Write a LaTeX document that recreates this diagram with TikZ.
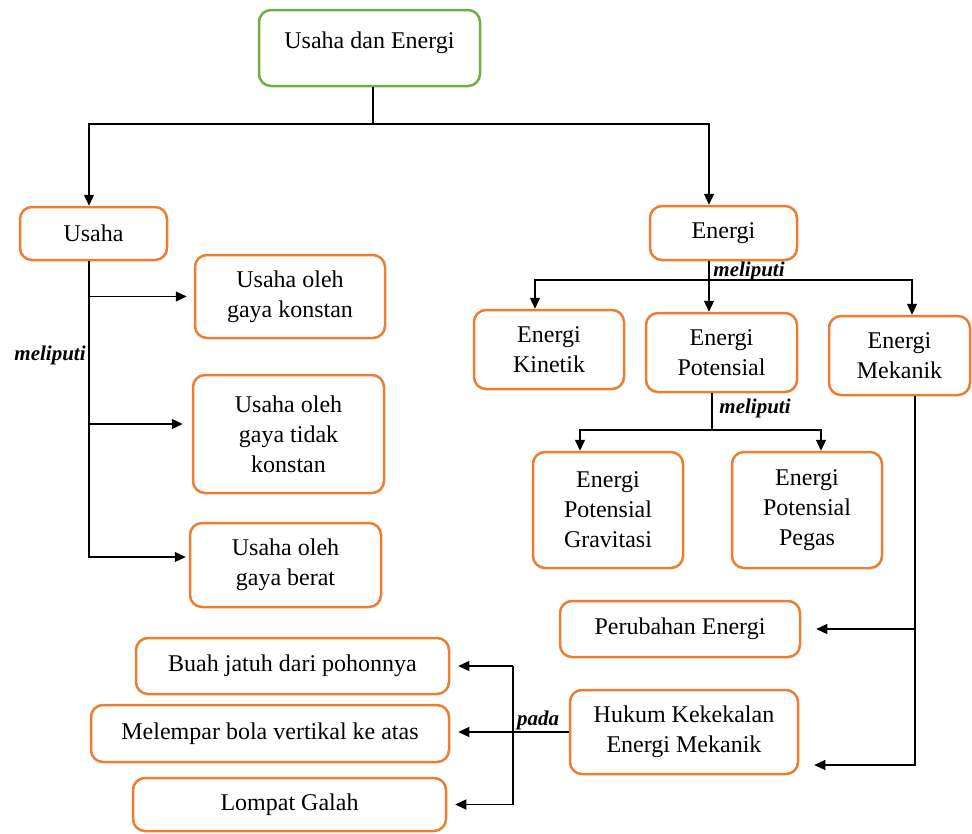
\documentclass[tikz,border=0pt]{standalone}
\usepackage{fontspec}
\setmainfont{Liberation Serif}
\usetikzlibrary{arrows.meta}

\definecolor{boxorange}{HTML}{ED7D31}
\definecolor{boxgreen}{HTML}{70AD47}

\begin{document}
\begin{tikzpicture}[x=1pt, y=-1pt, line width=1.2pt,
    >={Triangle[length=11pt,width=10pt]},
    box/.style={draw=boxorange, line width=2.5pt, rounded corners=12pt,
        align=center, font=\fontsize{24}{30}\selectfont},
    note/.style={font=\fontsize{21}{21}\selectfont\bfseries\itshape}]
    \useasboundingbox (0,0) rectangle (972,833);

    % judul
    \node[box, draw=boxgreen, minimum width=221pt, minimum height=76pt, text depth=16pt] (root) at (369.5,48) {Usaha dan Energi};

    % cabang usaha
    \node[box, minimum width=147pt, minimum height=53pt] (usaha) at (93.5,233.5) {Usaha};
    \node[box, minimum width=190pt, minimum height=83pt] (uk) at (290,296.5) {Usaha oleh\\gaya konstan};
    \node[box, minimum width=191pt, minimum height=118pt] (utk) at (288.5,434) {Usaha oleh\\gaya tidak\\konstan};
    \node[box, minimum width=191pt, minimum height=84pt] (ub) at (285.5,565) {Usaha oleh\\gaya berat};

    % cabang energi
    \node[box, minimum width=147pt, minimum height=54pt] (energi) at (723.5,233) {Energi};
    \node[box, minimum width=150pt, minimum height=79pt] (ek) at (549,349.5) {Energi\\Kinetik};
    \node[box, minimum width=151pt, minimum height=79pt] (ep) at (721.5,352.5) {Energi\\Potensial};
    \node[box, minimum width=141pt, minimum height=79pt] (em) at (899.5,355.5) {Energi\\Mekanik};
    \node[box, minimum width=150pt, minimum height=116pt] (epg) at (608,510) {Energi\\Potensial\\Gravitasi};
    \node[box, minimum width=150pt, minimum height=116pt] (epp) at (807,510) {Energi\\Potensial\\Pegas};
    \node[box, minimum width=240pt, minimum height=56pt] (pe) at (680,629) {Perubahan Energi};
    \node[box, minimum width=228pt, minimum height=84pt] (hk) at (684,732) {Hukum Kekekalan\\Energi Mekanik};

    % contoh hukum kekekalan
    \node[box, minimum width=313pt, minimum height=56pt] (buah) at (292.5,666) {Buah jatuh dari pohonnya};
    \node[box, minimum width=358pt, minimum height=57pt] (lempar) at (270,733.5) {Melempar bola vertikal ke atas};
    \node[box, minimum width=313pt, minimum height=53pt] (galah) at (289.5,804.5) {Lompat Galah};

    % judul -> usaha, energi
    \coordinate (rbot) at ([xshift=3.5pt]root.south);
    \coordinate (split) at (rbot |- 0,124);
    \draw (rbot) -- (split);
    \draw[->] (split) -| ([xshift=-4.5pt]usaha.north);
    \draw[->] (split) -| ([xshift=-14.5pt]energi.north);

    % usaha meliputi
    \coordinate (ustem) at ([xshift=-4.5pt]usaha.south);
    \coordinate (ubin) at ([yshift=8pt]ub.west);
    \coordinate (utkin) at ([yshift=10pt]utk.west);
    \draw[->, shorten >=3pt] (ustem) |- (ubin);
    \draw[->, shorten >=7pt] (ustem |- uk.west) -- (uk.west);
    \draw[->, shorten >=9pt] (ustem |- utkin) -- (utkin);
    \node[note] (m1) at (50,355) {meliputi};

    % energi meliputi
    \coordinate (etop) at ([xshift=-14.5pt]energi.south);
    \coordinate (esplit) at (etop |- 0,280);
    \draw (etop) -- (esplit);
    \draw[->] (esplit) -| ([xshift=-14pt]ek.north);
    \draw[->] (esplit) -- (esplit |- ep.north);
    \draw[->] (esplit) -| ([xshift=12.5pt]em.north);
    \node[note] (m2) at (749,271) {meliputi};

    % potensial meliputi
    \coordinate (ptop) at ([xshift=-9.5pt]ep.south);
    \coordinate (psplit) at (ptop |- 0,430);
    \draw (ptop) -- (psplit);
    \draw[->] (psplit) -| ([xshift=-28pt]epg.north);
    \draw[->] (psplit) -| ([xshift=14pt]epp.north);
    \node[note] (m3) at (755,408) {meliputi};

    % mekanik -> perubahan, hukum
    \coordinate (mtop) at ([xshift=15.5pt]em.south);
    \coordinate (hkin) at ([yshift=-33pt]hk.east);
    \draw[->, shorten >=15pt] (mtop) |- (hkin);
    \draw[->, shorten >=15pt] (mtop |- pe.east) -- (pe.east);

    % pada
    \coordinate (pstem) at (513,0);
    \draw[->, shorten >=8pt] (hk.west) -- (hk.west -| lempar.east);
    \draw (pstem |- buah.east) -- (pstem |- galah.east);
    \draw[->, shorten >=8pt] (pstem |- buah.east) -- (buah.east);
    \draw[->, shorten >=8pt] (pstem |- galah.east) -- (galah.east);
    \node[note] (pada) at (538,720) {pada};
\end{tikzpicture}
\end{document}
